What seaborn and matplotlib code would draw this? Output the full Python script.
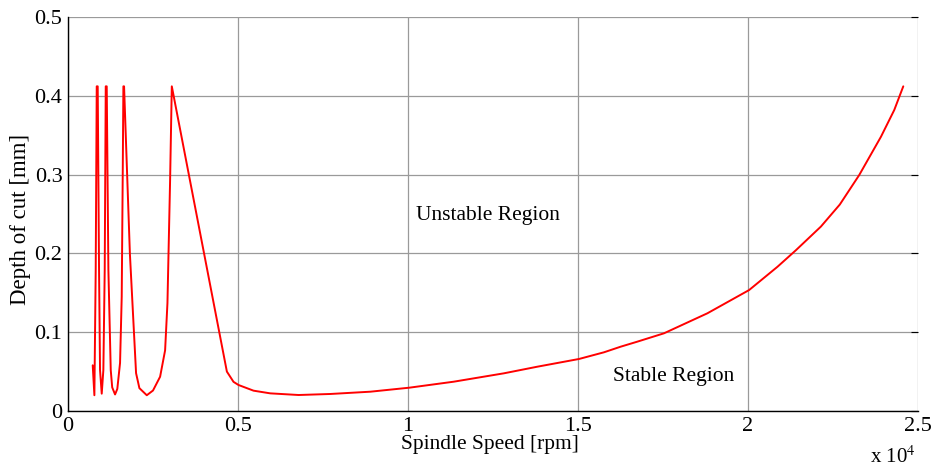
import matplotlib
matplotlib.use("Agg")
import matplotlib.pyplot as plt
import seaborn as sns
import pandas as pd

speed_rpm = [727, 776, 815, 845, 874, 913, 942, 992, 1040, 1080, 1110,
             1139, 1188, 1257, 1300, 1384, 1450, 1531, 1580, 1610, 1629,
             1649, 1820, 2002, 2100, 2317, 2500, 2709, 2856, 2925, 3003, 3053,
             4673, 4868, 5015, 5457, 5948, 6782, 7715, 8893, 10041, 11346,
             12818, 13802, 15028, 15764, 16254, 16745, 17529, 18806, 20033,
             20866, 21408, 22143, 22700, 23272, 23910, 24302, 24567]
depth_mm = [0.058, 0.020, 0.179, 0.412, 0.412, 0.179, 0.052, 0.022, 0.052, 0.179, 0.412,
            0.412, 0.179, 0.052, 0.030, 0.021, 0.028, 0.061, 0.145, 0.302, 0.412,
            0.412, 0.200, 0.048, 0.029, 0.020, 0.026, 0.0435, 0.077, 0.137, 0.293, 0.412,
            0.050, 0.037, 0.033, 0.0258, 0.0224, 0.0203, 0.0216, 0.0245, 0.0296, 0.0372,
            0.0478, 0.0562, 0.066, 0.0745, 0.0816, 0.088, 0.0986, 0.124, 0.1535,
            0.183, 0.204, 0.234, 0.262, 0.2995, 0.348, 0.382, 0.412]
x_ticks = [0, 0.5e4, 1e4, 1.5e4, 2e4, 2.5e4]
x_tick_labels = ["0", "0.5", "1", "1.5", "2", "2.5"]
y_ticks = [0, 0.1, 0.2, 0.3, 0.4, 0.5]
y_tick_labels = ["0", "0.1", "0.2", "0.3", "0.4", "0.5"]

sns.set_style("white")
plt.rcParams['font.family'] = ['Liberation Serif', 'DejaVu Serif']
plt.rcParams['mathtext.fontset'] = 'stix'
plt.rcParams['text.color'] = 'black'

df = pd.DataFrame({"speed": speed_rpm, "depth": depth_mm})

fig = plt.figure(figsize=(9.36, 4.68), dpi=100)
ax = fig.add_axes([68/936, 1 - 411/468, (918 - 68)/936, (411 - 17)/468])

sns.lineplot(data=df, x="speed", y="depth", sort=False, estimator=None,
             color="red", linewidth=1.4, ax=ax)

ax.set_xlim(0, 2.5e4)
ax.set_ylim(0, 0.5)
ax.set_xticks(x_ticks)
ax.set_xticklabels(x_tick_labels)
ax.set_yticks(y_ticks)
ax.set_yticklabels(y_tick_labels)
ax.grid(True, color="#9a9a9a", linewidth=0.9, linestyle="-")
ax.tick_params(direction="in", length=5, width=0.8, labelsize=16, colors="black",
               labelcolor="black", right=True, top=False)
ax.tick_params(axis="x", pad=4)
ax.tick_params(axis="y", pad=4)
for side in ["top", "right"]:
    ax.spines[side].set_visible(False)
for side in ["left", "bottom"]:
    ax.spines[side].set_color("black")
    ax.spines[side].set_linewidth(1.0)

ax.set_xlabel("")
ax.set_ylabel("")
fig.text(490/936, 1 - 445/468, "Spindle Speed [rpm]", fontsize=15.5, ha="center",
         va="center", color="black")
fig.text(21/936, 1 - 219/468, "Depth of cut [mm]", fontsize=16.5, ha="center", va="center",
         rotation=90, color="black")
ax.text(1.234e4, 0.2475, "Unstable Region", fontsize=15.5, ha="center", va="center",
        color="black")
ax.text(1.782e4, 0.0444, "Stable Region", fontsize=15.5, ha="center", va="center",
        color="black")
fig.text(893/936, 1 - 457/468, r"x 10$^{4}$", fontsize=15, ha="center", va="center",
         color="black")

fig.savefig("out.png", dpi=100)
